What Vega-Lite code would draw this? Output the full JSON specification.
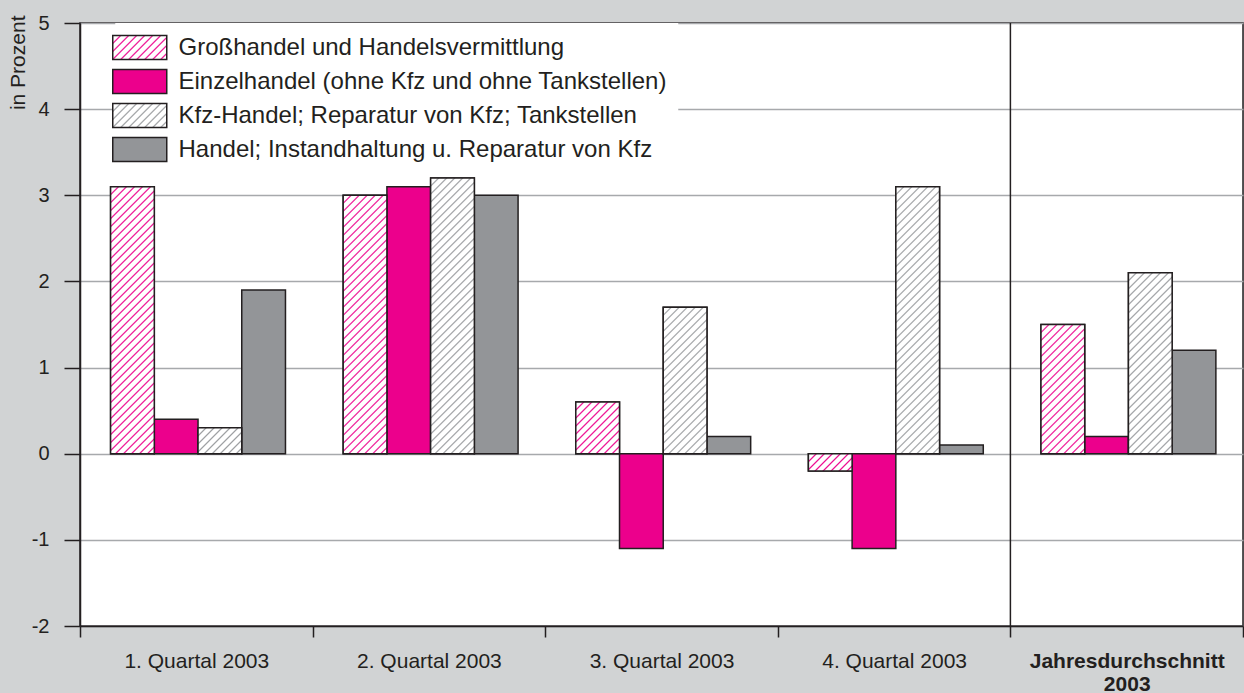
{
  "$schema": "https://vega.github.io/schema/vega-lite/v6.json",
  "width": 1163,
  "height": 603,
  "autosize": {"type": "none"},
  "padding": {"left": 80, "top": 23, "right": 1, "bottom": 67},
  "background": "#d1d3d4",
  "config": {
    "view": {"fill": "white", "stroke": "#231f20", "strokeWidth": 1.5},
    "font": "Liberation Sans",
    "text": {"font": "Liberation Sans"}
  },
  "params": [
    {"name": "pinkStops", "value": [
      {"offset":0,"color":"#ec008c"},{"offset":0.005,"color":"#fff"},
      {"offset":0.02,"color":"#fff"},{"offset":0.025,"color":"#ec008c"},{"offset":0.03,"color":"#fff"},
      {"offset":0.045,"color":"#fff"},{"offset":0.05,"color":"#ec008c"},{"offset":0.055,"color":"#fff"},
      {"offset":0.07,"color":"#fff"},{"offset":0.075,"color":"#ec008c"},{"offset":0.08,"color":"#fff"},
      {"offset":0.095,"color":"#fff"},{"offset":0.1,"color":"#ec008c"},{"offset":0.105,"color":"#fff"},
      {"offset":0.12,"color":"#fff"},{"offset":0.125,"color":"#ec008c"},{"offset":0.13,"color":"#fff"},
      {"offset":0.145,"color":"#fff"},{"offset":0.15,"color":"#ec008c"},{"offset":0.155,"color":"#fff"},
      {"offset":0.17,"color":"#fff"},{"offset":0.175,"color":"#ec008c"},{"offset":0.18,"color":"#fff"},
      {"offset":0.195,"color":"#fff"},{"offset":0.2,"color":"#ec008c"},{"offset":0.205,"color":"#fff"},
      {"offset":0.22,"color":"#fff"},{"offset":0.225,"color":"#ec008c"},{"offset":0.23,"color":"#fff"},
      {"offset":0.245,"color":"#fff"},{"offset":0.25,"color":"#ec008c"},{"offset":0.255,"color":"#fff"},
      {"offset":0.27,"color":"#fff"},{"offset":0.275,"color":"#ec008c"},{"offset":0.28,"color":"#fff"},
      {"offset":0.295,"color":"#fff"},{"offset":0.3,"color":"#ec008c"},{"offset":0.305,"color":"#fff"},
      {"offset":0.32,"color":"#fff"},{"offset":0.325,"color":"#ec008c"},{"offset":0.33,"color":"#fff"},
      {"offset":0.345,"color":"#fff"},{"offset":0.35,"color":"#ec008c"},{"offset":0.355,"color":"#fff"},
      {"offset":0.37,"color":"#fff"},{"offset":0.375,"color":"#ec008c"},{"offset":0.38,"color":"#fff"},
      {"offset":0.395,"color":"#fff"},{"offset":0.4,"color":"#ec008c"},{"offset":0.405,"color":"#fff"},
      {"offset":0.42,"color":"#fff"},{"offset":0.425,"color":"#ec008c"},{"offset":0.43,"color":"#fff"},
      {"offset":0.445,"color":"#fff"},{"offset":0.45,"color":"#ec008c"},{"offset":0.455,"color":"#fff"},
      {"offset":0.47,"color":"#fff"},{"offset":0.475,"color":"#ec008c"},{"offset":0.48,"color":"#fff"},
      {"offset":0.495,"color":"#fff"},{"offset":0.5,"color":"#ec008c"},{"offset":0.505,"color":"#fff"},
      {"offset":0.52,"color":"#fff"},{"offset":0.525,"color":"#ec008c"},{"offset":0.53,"color":"#fff"},
      {"offset":0.545,"color":"#fff"},{"offset":0.55,"color":"#ec008c"},{"offset":0.555,"color":"#fff"},
      {"offset":0.57,"color":"#fff"},{"offset":0.575,"color":"#ec008c"},{"offset":0.58,"color":"#fff"},
      {"offset":0.595,"color":"#fff"},{"offset":0.6,"color":"#ec008c"},{"offset":0.605,"color":"#fff"},
      {"offset":0.62,"color":"#fff"},{"offset":0.625,"color":"#ec008c"},{"offset":0.63,"color":"#fff"},
      {"offset":0.645,"color":"#fff"},{"offset":0.65,"color":"#ec008c"},{"offset":0.655,"color":"#fff"},
      {"offset":0.67,"color":"#fff"},{"offset":0.675,"color":"#ec008c"},{"offset":0.68,"color":"#fff"},
      {"offset":0.695,"color":"#fff"},{"offset":0.7,"color":"#ec008c"},{"offset":0.705,"color":"#fff"},
      {"offset":0.72,"color":"#fff"},{"offset":0.725,"color":"#ec008c"},{"offset":0.73,"color":"#fff"},
      {"offset":0.745,"color":"#fff"},{"offset":0.75,"color":"#ec008c"},{"offset":0.755,"color":"#fff"},
      {"offset":0.77,"color":"#fff"},{"offset":0.775,"color":"#ec008c"},{"offset":0.78,"color":"#fff"},
      {"offset":0.795,"color":"#fff"},{"offset":0.8,"color":"#ec008c"},{"offset":0.805,"color":"#fff"},
      {"offset":0.82,"color":"#fff"},{"offset":0.825,"color":"#ec008c"},{"offset":0.83,"color":"#fff"},
      {"offset":0.845,"color":"#fff"},{"offset":0.85,"color":"#ec008c"},{"offset":0.855,"color":"#fff"},
      {"offset":0.87,"color":"#fff"},{"offset":0.875,"color":"#ec008c"},{"offset":0.88,"color":"#fff"},
      {"offset":0.895,"color":"#fff"},{"offset":0.9,"color":"#ec008c"},{"offset":0.905,"color":"#fff"},
      {"offset":0.92,"color":"#fff"},{"offset":0.925,"color":"#ec008c"},{"offset":0.93,"color":"#fff"},
      {"offset":0.945,"color":"#fff"},{"offset":0.95,"color":"#ec008c"},{"offset":0.955,"color":"#fff"},
      {"offset":0.97,"color":"#fff"},{"offset":0.975,"color":"#ec008c"},{"offset":0.98,"color":"#fff"},
      {"offset":0.995,"color":"#fff"},{"offset":1,"color":"#ec008c"}
    ]},
    {"name": "grayStops", "value": [
      {"offset":0,"color":"#999b9e"},{"offset":0.005,"color":"#fff"},
      {"offset":0.02,"color":"#fff"},{"offset":0.025,"color":"#999b9e"},{"offset":0.03,"color":"#fff"},
      {"offset":0.045,"color":"#fff"},{"offset":0.05,"color":"#999b9e"},{"offset":0.055,"color":"#fff"},
      {"offset":0.07,"color":"#fff"},{"offset":0.075,"color":"#999b9e"},{"offset":0.08,"color":"#fff"},
      {"offset":0.095,"color":"#fff"},{"offset":0.1,"color":"#999b9e"},{"offset":0.105,"color":"#fff"},
      {"offset":0.12,"color":"#fff"},{"offset":0.125,"color":"#999b9e"},{"offset":0.13,"color":"#fff"},
      {"offset":0.145,"color":"#fff"},{"offset":0.15,"color":"#999b9e"},{"offset":0.155,"color":"#fff"},
      {"offset":0.17,"color":"#fff"},{"offset":0.175,"color":"#999b9e"},{"offset":0.18,"color":"#fff"},
      {"offset":0.195,"color":"#fff"},{"offset":0.2,"color":"#999b9e"},{"offset":0.205,"color":"#fff"},
      {"offset":0.22,"color":"#fff"},{"offset":0.225,"color":"#999b9e"},{"offset":0.23,"color":"#fff"},
      {"offset":0.245,"color":"#fff"},{"offset":0.25,"color":"#999b9e"},{"offset":0.255,"color":"#fff"},
      {"offset":0.27,"color":"#fff"},{"offset":0.275,"color":"#999b9e"},{"offset":0.28,"color":"#fff"},
      {"offset":0.295,"color":"#fff"},{"offset":0.3,"color":"#999b9e"},{"offset":0.305,"color":"#fff"},
      {"offset":0.32,"color":"#fff"},{"offset":0.325,"color":"#999b9e"},{"offset":0.33,"color":"#fff"},
      {"offset":0.345,"color":"#fff"},{"offset":0.35,"color":"#999b9e"},{"offset":0.355,"color":"#fff"},
      {"offset":0.37,"color":"#fff"},{"offset":0.375,"color":"#999b9e"},{"offset":0.38,"color":"#fff"},
      {"offset":0.395,"color":"#fff"},{"offset":0.4,"color":"#999b9e"},{"offset":0.405,"color":"#fff"},
      {"offset":0.42,"color":"#fff"},{"offset":0.425,"color":"#999b9e"},{"offset":0.43,"color":"#fff"},
      {"offset":0.445,"color":"#fff"},{"offset":0.45,"color":"#999b9e"},{"offset":0.455,"color":"#fff"},
      {"offset":0.47,"color":"#fff"},{"offset":0.475,"color":"#999b9e"},{"offset":0.48,"color":"#fff"},
      {"offset":0.495,"color":"#fff"},{"offset":0.5,"color":"#999b9e"},{"offset":0.505,"color":"#fff"},
      {"offset":0.52,"color":"#fff"},{"offset":0.525,"color":"#999b9e"},{"offset":0.53,"color":"#fff"},
      {"offset":0.545,"color":"#fff"},{"offset":0.55,"color":"#999b9e"},{"offset":0.555,"color":"#fff"},
      {"offset":0.57,"color":"#fff"},{"offset":0.575,"color":"#999b9e"},{"offset":0.58,"color":"#fff"},
      {"offset":0.595,"color":"#fff"},{"offset":0.6,"color":"#999b9e"},{"offset":0.605,"color":"#fff"},
      {"offset":0.62,"color":"#fff"},{"offset":0.625,"color":"#999b9e"},{"offset":0.63,"color":"#fff"},
      {"offset":0.645,"color":"#fff"},{"offset":0.65,"color":"#999b9e"},{"offset":0.655,"color":"#fff"},
      {"offset":0.67,"color":"#fff"},{"offset":0.675,"color":"#999b9e"},{"offset":0.68,"color":"#fff"},
      {"offset":0.695,"color":"#fff"},{"offset":0.7,"color":"#999b9e"},{"offset":0.705,"color":"#fff"},
      {"offset":0.72,"color":"#fff"},{"offset":0.725,"color":"#999b9e"},{"offset":0.73,"color":"#fff"},
      {"offset":0.745,"color":"#fff"},{"offset":0.75,"color":"#999b9e"},{"offset":0.755,"color":"#fff"},
      {"offset":0.77,"color":"#fff"},{"offset":0.775,"color":"#999b9e"},{"offset":0.78,"color":"#fff"},
      {"offset":0.795,"color":"#fff"},{"offset":0.8,"color":"#999b9e"},{"offset":0.805,"color":"#fff"},
      {"offset":0.82,"color":"#fff"},{"offset":0.825,"color":"#999b9e"},{"offset":0.83,"color":"#fff"},
      {"offset":0.845,"color":"#fff"},{"offset":0.85,"color":"#999b9e"},{"offset":0.855,"color":"#fff"},
      {"offset":0.87,"color":"#fff"},{"offset":0.875,"color":"#999b9e"},{"offset":0.88,"color":"#fff"},
      {"offset":0.895,"color":"#fff"},{"offset":0.9,"color":"#999b9e"},{"offset":0.905,"color":"#fff"},
      {"offset":0.92,"color":"#fff"},{"offset":0.925,"color":"#999b9e"},{"offset":0.93,"color":"#fff"},
      {"offset":0.945,"color":"#fff"},{"offset":0.95,"color":"#999b9e"},{"offset":0.955,"color":"#fff"},
      {"offset":0.97,"color":"#fff"},{"offset":0.975,"color":"#999b9e"},{"offset":0.98,"color":"#fff"},
      {"offset":0.995,"color":"#fff"},{"offset":1,"color":"#999b9e"}
    ]}
  ],
  "data": {"values": [
    {"q": "1. Quartal 2003", "s": "Großhandel und Handelsvermittlung", "v": 3.1},
    {"q": "1. Quartal 2003", "s": "Einzelhandel (ohne Kfz und ohne Tankstellen)", "v": 0.4},
    {"q": "1. Quartal 2003", "s": "Kfz-Handel; Reparatur von Kfz; Tankstellen", "v": 0.3},
    {"q": "1. Quartal 2003", "s": "Handel; Instandhaltung u. Reparatur von Kfz", "v": 1.9},
    {"q": "2. Quartal 2003", "s": "Großhandel und Handelsvermittlung", "v": 3.0},
    {"q": "2. Quartal 2003", "s": "Einzelhandel (ohne Kfz und ohne Tankstellen)", "v": 3.1},
    {"q": "2. Quartal 2003", "s": "Kfz-Handel; Reparatur von Kfz; Tankstellen", "v": 3.2},
    {"q": "2. Quartal 2003", "s": "Handel; Instandhaltung u. Reparatur von Kfz", "v": 3.0},
    {"q": "3. Quartal 2003", "s": "Großhandel und Handelsvermittlung", "v": 0.6},
    {"q": "3. Quartal 2003", "s": "Einzelhandel (ohne Kfz und ohne Tankstellen)", "v": -1.1},
    {"q": "3. Quartal 2003", "s": "Kfz-Handel; Reparatur von Kfz; Tankstellen", "v": 1.7},
    {"q": "3. Quartal 2003", "s": "Handel; Instandhaltung u. Reparatur von Kfz", "v": 0.2},
    {"q": "4. Quartal 2003", "s": "Großhandel und Handelsvermittlung", "v": -0.2},
    {"q": "4. Quartal 2003", "s": "Einzelhandel (ohne Kfz und ohne Tankstellen)", "v": -1.1},
    {"q": "4. Quartal 2003", "s": "Kfz-Handel; Reparatur von Kfz; Tankstellen", "v": 3.1},
    {"q": "4. Quartal 2003", "s": "Handel; Instandhaltung u. Reparatur von Kfz", "v": 0.1},
    {"q": "Jahresdurchschnitt 2003", "s": "Großhandel und Handelsvermittlung", "v": 1.5},
    {"q": "Jahresdurchschnitt 2003", "s": "Einzelhandel (ohne Kfz und ohne Tankstellen)", "v": 0.2},
    {"q": "Jahresdurchschnitt 2003", "s": "Kfz-Handel; Reparatur von Kfz; Tankstellen", "v": 2.1},
    {"q": "Jahresdurchschnitt 2003", "s": "Handel; Instandhaltung u. Reparatur von Kfz", "v": 1.2}
  ]},
  "encoding": {
    "x": {
      "field": "q", "type": "nominal", "sort": null, "title": null,
      "scale": {"paddingInner": 0, "paddingOuter": 0},
      "axis": {
        "tickBand": "extent", "grid": false, "labelAngle": 0,
        "tickSize": 11, "tickColor": "#231f20", "tickWidth": 1.5,
        "domainColor": "#231f20", "domainWidth": 1.5,
        "labelFont": "Liberation Sans", "labelFontSize": 21, "labelColor": "#231f20",
        "labelPadding": 13, "labelLineHeight": 23, "labelLimit": 0,
        "labelExpr": "datum.value === 'Jahresdurchschnitt 2003' ? ['Jahresdurchschnitt', '2003'] : datum.label",
        "labelFontWeight": {"condition": {"test": "datum.value === 'Jahresdurchschnitt 2003'", "value": "bold"}, "value": "normal"}
      }
    }
  },
  "layer": [
    {
      "mark": {"type": "bar", "stroke": "#231f20", "strokeWidth": 1.5},
      "encoding": {
        "xOffset": {"field": "s", "type": "nominal", "sort": null,
          "scale": {"domain": ["Großhandel und Handelsvermittlung", "Einzelhandel (ohne Kfz und ohne Tankstellen)", "Kfz-Handel; Reparatur von Kfz; Tankstellen", "Handel; Instandhaltung u. Reparatur von Kfz"], "paddingInner": 0, "paddingOuter": 0.66, "align": 0.53}},
        "y": {"field": "v", "type": "quantitative", "title": "in Prozent",
          "scale": {"domain": [-2, 5], "nice": false, "zero": false},
          "axis": {
            "values": [-2, -1, 0, 1, 2, 3, 4, 5],
            "labelExpr": "'' + datum.value",
            "grid": true, "gridColor": "#a7a9ac", "gridWidth": 1.3,
            "tickSize": 16, "tickColor": "#231f20", "tickWidth": 1.5,
            "domainColor": "#231f20", "domainWidth": 1.5,
            "labelFont": "Liberation Sans", "labelFontSize": 20, "labelColor": "#231f20", "labelPadding": 15,
            "titleFont": "Liberation Sans", "titleFontSize": 21, "titleFontWeight": "normal", "titleColor": "#231f20",
            "titleAngle": -90, "titleX": -62, "titleY": -8, "titleAlign": "right", "titleBaseline": "middle"
          }
        },
        "color": {"field": "s", "type": "nominal", "sort": null,
          "scale": {"domain": ["Großhandel und Handelsvermittlung", "Einzelhandel (ohne Kfz und ohne Tankstellen)", "Kfz-Handel; Reparatur von Kfz; Tankstellen", "Handel; Instandhaltung u. Reparatur von Kfz"],
                    "range": [
                      {"expr": "{gradient: 'linear', x1: 0, y1: 0, x2: 4.948, y2: 2.199, stops: pinkStops}"},
                      "#ec008c",
                      {"expr": "{gradient: 'linear', x1: 0, y1: 0, x2: 4.948, y2: 2.199, stops: grayStops}"},
                      "#939598"]},
          "legend": {
            "title": null, "orient": "none", "legendX": 35.25, "legendY": 0,
            "fillColor": "white", "padding": 11,
            "labelFont": "Liberation Sans", "labelFontSize": 24, "labelColor": "#231f20", "labelLimit": 1000,
            "labelOffset": 25.25, "rowPadding": 3,
            "symbolType": "M-2.16,-0.96L2.16,-0.96L2.16,0.96L-2.16,0.96Z", "symbolSize": 625,
            "symbolStrokeColor": "#231f20", "symbolStrokeWidth": 1.5,
            "encode": {"symbols": {"update": {
              "stroke": {"value": "#231f20"}, "strokeWidth": {"value": 1.5}, "opacity": {"value": 1}
            }}}
          }
        }
      }
    },
    {
      "transform": [{"filter": "datum.s === 'Großhandel und Handelsvermittlung' || datum.s === 'Kfz-Handel; Reparatur von Kfz; Tankstellen'"}],
      "mark": {"type": "bar", "stroke": "#231f20", "strokeWidth": 1.5,
        "fill": {"expr": "{gradient: 'linear', x1: 0, y1: 0, x2: 320 * bandwidth('xOffset') / (pow(bandwidth('xOffset'), 2) + pow(scale('y', 0) - scale('y', datum.v), 2)), y2: 320 * abs(scale('y', 0) - scale('y', datum.v)) / (pow(bandwidth('xOffset'), 2) + pow(scale('y', 0) - scale('y', datum.v), 2)), stops: datum.s === 'Großhandel und Handelsvermittlung' ? pinkStops : grayStops}"}},
      "encoding": {
        "xOffset": {"field": "s", "type": "nominal", "sort": null},
        "y": {"field": "v", "type": "quantitative"}
      }
    },
    {
      "transform": [{"filter": "datum.q === 'Jahresdurchschnitt 2003' && datum.s === 'Großhandel und Handelsvermittlung'"}],
      "mark": {"type": "rule", "color": "#231f20", "strokeWidth": 1.5},
      "encoding": {
        "x": {"field": "q", "type": "nominal", "sort": null, "title": null, "bandPosition": 0}
      }
    }
  ]
}
